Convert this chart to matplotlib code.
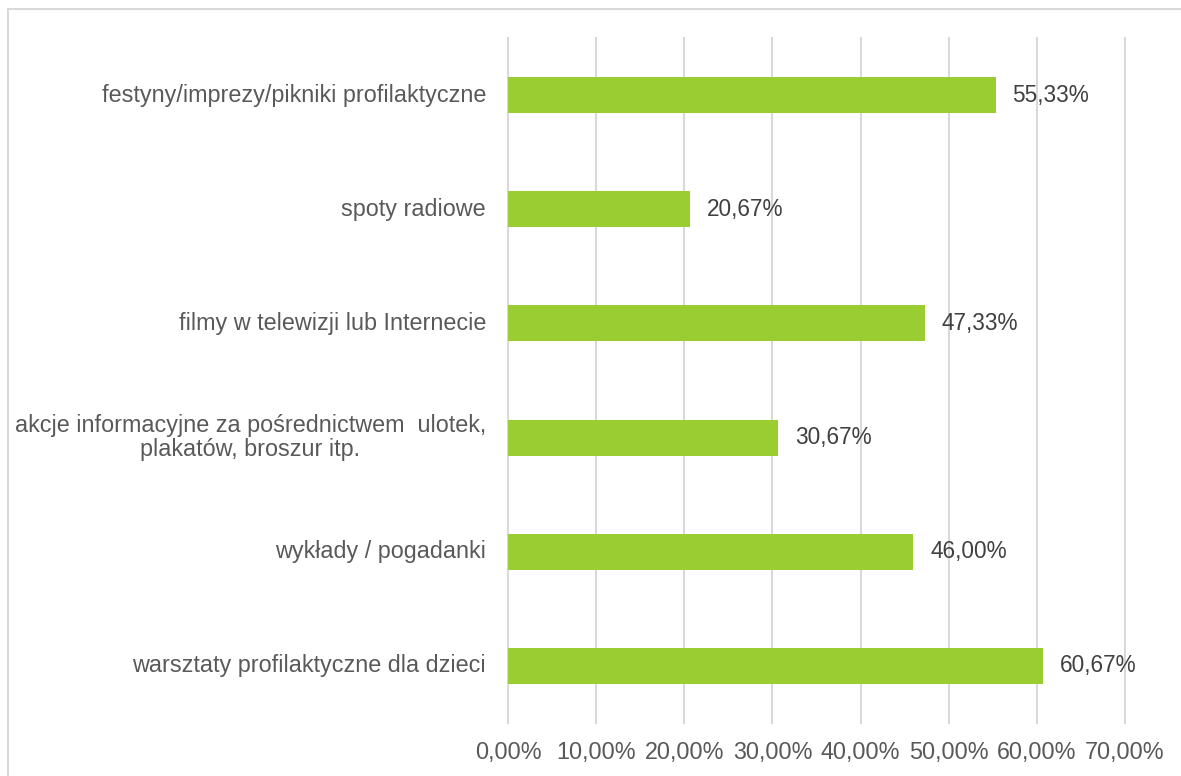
import matplotlib.pyplot as plt
from matplotlib.patches import Rectangle
from matplotlib.ticker import FuncFormatter

# Data
categories = ['warsztaty profilaktyczne dla dzieci',
              'wykłady / pogadanki',
              'akcje informacyjne za pośrednictwem  ulotek,\nplakatów, broszur itp.',
              'filmy w telewizji lub Internecie',
              'spoty radiowe',
              'festyny/imprezy/pikniki profilaktyczne']
values = [60.67, 46.00, 30.67, 47.33, 20.67, 55.33]
xticks = [0, 10, 20, 30, 40, 50, 60, 70]

bar_color = '#9ACD32'
grid_color = '#d9d9d9'
text_color = '#595959'
font = 'Liberation Sans'

fig = plt.figure(figsize=(11.81, 7.76), dpi=100)
ax = fig.add_axes([508/1181, 1 - 723/776, (1125 - 508)/1181, (723 - 38)/776])

ypos = list(range(len(categories)))
ax.barh(ypos, values, height=0.315, color=bar_color, zorder=2)

# data labels
for y, v in zip(ypos, values):
	ax.text(v + 1.9, y, f"{v:.2f}%".replace('.', ','), va='center', ha='left',
			fontsize=16.3, color='#404040', family=font)

ax.set_xlim(0, 70)
ax.set_ylim(-0.5, len(categories) - 0.5)
ax.set_xticks(xticks)
ax.xaxis.set_major_formatter(FuncFormatter(lambda x, p: f"{x:.2f}%".replace('.', ',')))
ax.set_yticks(ypos)
ax.set_yticklabels([])

ax.grid(axis='x', color=grid_color, linewidth=1.5, zorder=0)
for gl in ax.get_xgridlines():
	gl.set_clip_on(False)
for s in ax.spines.values():
	s.set_visible(False)
ax.tick_params(axis='both', length=0)
ax.tick_params(axis='x', pad=13, labelsize=16.8, labelcolor=text_color)
for lbl in ax.get_xticklabels():
	lbl.set_family(font)

# category labels, right edge 22 px left of the axes
for y, c in zip(ypos, categories):
	ax.text(-22/617*70, y, c, ha='right', va='center', multialignment='center',
			fontsize=16.8, color=text_color, family=font, linespacing=1.08)

# chart area border (top and left visible)
fig.patches.append(Rectangle((7.5/1181, -0.1), 1.2, 1.1 - 9.5/776, transform=fig.transFigure,
							 fill=False, edgecolor=grid_color, linewidth=1.5))

plt.savefig('out.png', dpi=100)
